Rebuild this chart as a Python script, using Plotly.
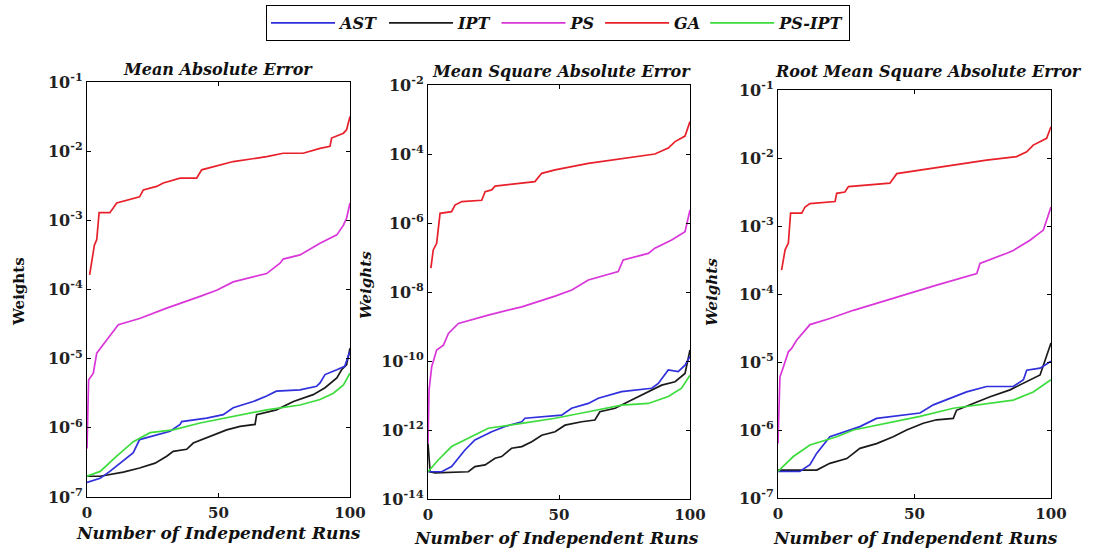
import numpy as np
import plotly.graph_objects as go

# ---- Data: run index (x) and log10 of the error weight (y) for each algorithm ----
# Panel 1: Mean Absolute Error
mae_ast_x = [0, 5, 8.7, 17.6, 20, 25, 31.6, 35.4, 36, 45.5, 51.8, 55.6, 63.2, 68.3, 72, 81, 87.3, 88.6, 90.5, 95, 98, 100]
mae_ast_e = [-6.79, -6.73, -6.63, -6.36, -6.17, -6.12, -6.05, -5.95, -5.91, -5.86, -5.81, -5.71, -5.62, -5.54, -5.47, -5.45, -5.40, -5.35, -5.23, -5.16, -5.11, -4.89]
mae_ipt_x = [0, 5, 13.8, 20, 25.9, 30.3, 32.8, 37.9, 40.4, 46.8, 53.1, 58.2, 63.9, 64.5, 72, 78.5, 86, 90.5, 95, 96.8, 98.7, 100]
mae_ipt_e = [-6.70, -6.70, -6.64, -6.58, -6.51, -6.41, -6.34, -6.31, -6.22, -6.12, -6.03, -5.98, -5.95, -5.81, -5.74, -5.62, -5.52, -5.42, -5.28, -5.16, -5.09, -4.85]
mae_ps_x = [0, 0.6, 2.4, 3.7, 7.5, 11.9, 20, 30.3, 43, 49.3, 55.6, 68.3, 73.4, 74.6, 81, 88.6, 95, 97.5, 98.7, 100]
mae_ps_e = [-6.30, -5.31, -5.21, -4.92, -4.73, -4.51, -4.42, -4.27, -4.10, -4.01, -3.89, -3.77, -3.62, -3.56, -3.50, -3.33, -3.21, -3.07, -2.97, -2.75]
mae_ga_x = [1, 2.8, 3.7, 4.6, 8.7, 11.3, 20, 21.4, 26.5, 29, 35.4, 41.7, 43.6, 55.6, 68.3, 74.6, 82.2, 88.6, 92.4, 93, 97.5, 98.7, 100]
mae_ga_e = [-3.79, -3.36, -3.28, -2.89, -2.89, -2.75, -2.66, -2.56, -2.51, -2.46, -2.39, -2.39, -2.27, -2.15, -2.08, -2.03, -2.03, -1.96, -1.93, -1.81, -1.74, -1.69, -1.50]
mae_psipt_x = [0, 5, 11.3, 17.6, 24, 32.8, 43, 55.6, 68.3, 81, 88.6, 93.7, 97.5, 100]
mae_psipt_e = [-6.70, -6.63, -6.41, -6.20, -6.07, -6.03, -5.93, -5.83, -5.74, -5.67, -5.59, -5.50, -5.38, -5.21]

# Panel 2: Mean Square Absolute Error
msae_ast_x = [0, 5.2, 9, 14.1, 17.9, 20.5, 24.3, 29.4, 35.8, 37, 51, 54.8, 61.2, 65, 73.9, 85.4, 87.9, 91.7, 95.5, 98.1, 100]
msae_ast_e = [-13.21, -13.21, -13.06, -12.58, -12.29, -12.19, -12.05, -11.90, -11.76, -11.66, -11.57, -11.37, -11.23, -11.08, -10.89, -10.79, -10.65, -10.26, -10.31, -10.12, -9.87]
msae_ipt_x = [0, 0.8, 2.7, 10.3, 15.4, 17.9, 21.8, 25.6, 28.1, 31.9, 35.8, 39.6, 43.4, 48.5, 52.3, 58.7, 63.7, 65.6, 71.4, 77.7, 84.1, 89.2, 94.3, 98.1, 100]
msae_ipt_e = [-12.39, -13.21, -13.24, -13.21, -13.21, -13.06, -13.01, -12.82, -12.77, -12.53, -12.48, -12.34, -12.15, -12.05, -11.86, -11.76, -11.71, -11.47, -11.37, -11.13, -10.89, -10.70, -10.60, -10.36, -9.68]
msae_ps_x = [0, 0.4, 1.4, 3.3, 5.9, 7.8, 11.6, 23, 35.8, 48.5, 54.9, 61.2, 72.6, 74.5, 84.1, 86.6, 93, 98.1, 100]
msae_ps_e = [-12.39, -10.84, -10.17, -9.68, -9.54, -9.20, -8.91, -8.67, -8.43, -8.12, -7.94, -7.65, -7.41, -7.07, -6.88, -6.73, -6.49, -6.25, -5.62]
msae_ga_x = [1.1, 2, 3.3, 4.6, 9, 10.3, 12.9, 20.5, 21.8, 24.3, 25.6, 40.8, 43.4, 48.5, 61.2, 73.9, 86.6, 91.7, 94.3, 98.1, 100]
msae_ga_e = [-7.31, -6.78, -6.59, -5.72, -5.67, -5.48, -5.38, -5.34, -5.09, -5.04, -4.93, -4.80, -4.56, -4.46, -4.27, -4.13, -4.00, -3.83, -3.64, -3.48, -3.06]
msae_psipt_x = [0, 3.9, 9, 16.7, 23, 35.8, 48.5, 61.2, 73.9, 84.1, 91.7, 96.8, 100]
msae_psipt_e = [-13.21, -12.87, -12.48, -12.19, -11.95, -11.81, -11.66, -11.47, -11.28, -11.23, -11.03, -10.79, -10.41]

# Panel 3: Root Mean Square Absolute Error
rmsae_ast_x = [0, 8, 11.7, 14.2, 19, 25.2, 30, 36.1, 52, 56.9, 64.2, 69.1, 76.4, 86.2, 89.9, 91.1, 96, 100]
rmsae_ast_e = [-6.61, -6.61, -6.51, -6.34, -6.10, -6.02, -5.95, -5.83, -5.75, -5.63, -5.51, -5.44, -5.36, -5.36, -5.26, -5.12, -5.09, -4.99]
rmsae_ipt_x = [0, 14.2, 19, 25.2, 30, 36.1, 42.2, 47.1, 53.2, 58.1, 64.2, 65.4, 71.5, 77.7, 85, 91.1, 96, 100]
rmsae_ipt_e = [-6.59, -6.59, -6.49, -6.42, -6.27, -6.20, -6.10, -6.00, -5.90, -5.85, -5.83, -5.71, -5.61, -5.51, -5.41, -5.29, -5.19, -4.72]
rmsae_ps_x = [0, 0.7, 2, 3.8, 5, 6.8, 11.7, 19, 27.6, 39.8, 52, 58.1, 72.8, 74, 83.8, 86.2, 92.3, 97.2, 100]
rmsae_ps_e = [-6.20, -5.22, -5.07, -4.85, -4.80, -4.68, -4.45, -4.36, -4.24, -4.09, -3.94, -3.87, -3.70, -3.55, -3.40, -3.36, -3.21, -3.06, -2.72]
rmsae_ga_x = [1.3, 2.6, 3.8, 4.6, 8.7, 9.9, 11.7, 20.9, 21.5, 24.5, 25.8, 41, 43.5, 52, 64.2, 76.4, 87.4, 91.1, 93.5, 98.4, 100]
rmsae_ga_e = [-3.65, -3.35, -3.25, -2.81, -2.81, -2.72, -2.67, -2.64, -2.52, -2.50, -2.42, -2.37, -2.23, -2.18, -2.10, -2.03, -1.98, -1.91, -1.81, -1.71, -1.54]
rmsae_psipt_x = [0, 5.6, 11.7, 21.5, 27.6, 39.8, 52, 64.2, 76.4, 86.2, 93.5, 100]
rmsae_psipt_e = [-6.61, -6.39, -6.22, -6.10, -6.00, -5.90, -5.80, -5.68, -5.61, -5.56, -5.44, -5.26]

algorithms = ["AST", "IPT", "PS", "GA", "PS-IPT"]
colors = ["#2f2fdc", "#1a1a1a", "#d936d9", "#e8202a", "#3ddc3d"]

panel_titles = ["Mean Absolute Error", "Mean Square Absolute Error", "Root Mean Square Absolute Error"]
x_ticks = [0, 50, 100]
y_tick_exps = [list(range(-7, 0)), list(range(-14, -1, 2)), list(range(-7, 0))]
y_ranges = [[-7, -1], [-14, -2], [-7, -1]]

panels = [
    [(mae_ast_x, mae_ast_e), (mae_ipt_x, mae_ipt_e), (mae_ps_x, mae_ps_e), (mae_ga_x, mae_ga_e), (mae_psipt_x, mae_psipt_e)],
    [(msae_ast_x, msae_ast_e), (msae_ipt_x, msae_ipt_e), (msae_ps_x, msae_ps_e), (msae_ga_x, msae_ga_e), (msae_psipt_x, msae_psipt_e)],
    [(rmsae_ast_x, rmsae_ast_e), (rmsae_ipt_x, rmsae_ipt_e), (rmsae_ps_x, rmsae_ps_e), (rmsae_ga_x, rmsae_ga_e), (rmsae_psipt_x, rmsae_psipt_e)],
]

W, H = 1095, 550
# plot-area boxes in pixels: (left, right, top, bottom)
boxes = [(87, 350, 82, 497), (428, 690, 85, 499), (778, 1051, 90, 498)]

SERIF = "DejaVu Serif"

fig = go.Figure()

for p, series in enumerate(panels):
    xa = "x" if p == 0 else f"x{p+1}"
    ya = "y" if p == 0 else f"y{p+1}"
    for k in [3, 2, 1, 0, 4]:
        xs, es = series[k]
        fig.add_trace(go.Scatter(
            x=xs, y=np.power(10.0, es), mode="lines",
            name=algorithms[k], legendgroup=algorithms[k],
            showlegend=False,
            line=dict(color=colors[k], width=1.7),
            xaxis=xa, yaxis=ya,
        ))

# legend entries in the fixed order
for k, name in enumerate(algorithms):
    fig.add_trace(go.Scatter(
        x=[None], y=[None], mode="lines", name=name, legendgroup=name,
        line=dict(color=colors[k], width=1.7), showlegend=True,
    ))

axis_common = dict(
    showline=True, linecolor="black", linewidth=1.2, mirror="ticks",
    ticks="inside", ticklen=4, tickcolor="black",
    showgrid=False, zeroline=False, automargin=False,
)

layout = {}
annotations = []
for p, (l, r, t, b) in enumerate(boxes):
    xkey = "xaxis" if p == 0 else f"xaxis{p+1}"
    ykey = "yaxis" if p == 0 else f"yaxis{p+1}"
    yref = "y" if p == 0 else f"y{p+1}"
    xref = "x" if p == 0 else f"x{p+1}"
    layout[xkey] = dict(
        domain=[l / W, r / W], anchor=yref, range=[0, 100],
        tickvals=x_ticks, ticktext=[str(v) for v in x_ticks],
        tickfont=dict(family=SERIF, size=15, color="#222", weight="bold"),
        ticklabelstandoff=2,
        **axis_common,
    )
    exps = y_tick_exps[p]
    layout[ykey] = dict(
        domain=[1 - b / H, 1 - t / H], anchor=xref, type="log",
        range=y_ranges[p],
        tickvals=[10.0 ** e for e in exps],
        ticktext=[f"10<sup>{e}</sup>" for e in exps],
        tickfont=dict(family=SERIF, size=16, color="#222", weight="bold"),
        **axis_common,
    )

# panel titles
title_pos = [(218, 69), (561, 72), (928, 71)]
for (cx, cy), txt in zip(title_pos, panel_titles):
    annotations.append(dict(
        x=cx / W, y=1 - cy / H, xref="paper", yref="paper", text=f"<b><i>{txt}</i></b>",
        showarrow=False, xanchor="center", yanchor="middle",
        font=dict(family=SERIF, size=16, color="#111"),
    ))

# x-axis titles
xt_pos = [(218, 533), (556, 538), (915, 538)]
for cx, cy in xt_pos:
    annotations.append(dict(
        x=cx / W, y=1 - cy / H, xref="paper", yref="paper",
        text="<b><i>Number of Independent Runs</i></b>",
        showarrow=False, xanchor="center", yanchor="middle",
        font=dict(family=SERIF, size=17, color="#111"),
    ))

# y-axis titles
yt_pos = [(19, 292, False), (366, 285, True), (712, 292, True)]
for cx, cy, ital in yt_pos:
    txt = "<b><i>Weights</i></b>" if ital else "<b>Weights</b>"
    annotations.append(dict(
        x=cx / W, y=1 - cy / H, xref="paper", yref="paper", text=txt,
        showarrow=False, xanchor="center", yanchor="middle", textangle=-90,
        font=dict(family=SERIF, size=15, color="#111"),
    ))

fig.update_layout(
    width=W, height=H,
    margin=dict(l=0, r=0, t=0, b=0, autoexpand=False),
    paper_bgcolor="white", plot_bgcolor="white",
    annotations=annotations,
    legend=dict(
        orientation="h", x=558 / W, xanchor="center", y=1 - 5 / H, yanchor="top",
        bordercolor="black", borderwidth=1, bgcolor="white",
        font=dict(family=SERIF, size=16, color="#111", weight="bold", style="italic"),
        itemwidth=64, tracegroupgap=0,
    ),
    **layout,
)

fig.write_html("out.html")
